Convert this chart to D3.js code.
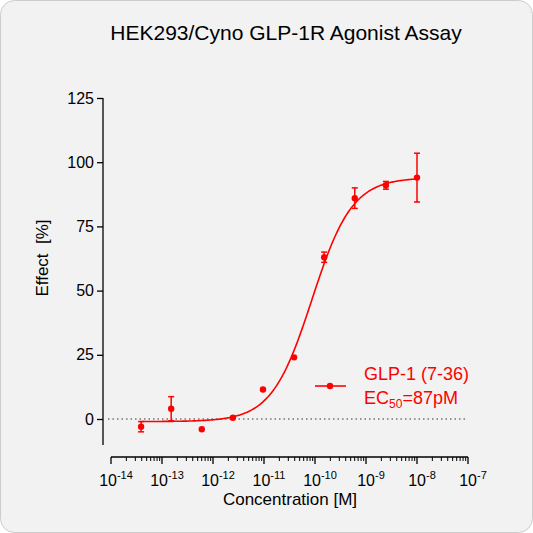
<!DOCTYPE html>
<html><head><meta charset="utf-8">
<script src="https://cdn.jsdelivr.net/npm/d3@7"></script>
<style>body{margin:0;background:#fff;font-family:Arial,"Liberation Sans",sans-serif;}</style>
</head><body><div id="chart"></div>
<script>
// concentrations (log10 M), mean effect, SEM
var logConc = [-13.41, -12.82, -12.22, -11.61, -11.02, -10.41, -9.82, -9.22, -8.61, -8.0];
var effect = [-3, 4, -4, 0.5, 11.5, 24, 63, 86, 91, 94];
var errBar = [2, 4.7, 0, 0, 0, 0, 2, 4, 1.5, 9.5];
var yTicks = [0, 25, 50, 75, 100, 125];
var xDecades = [-14, -13, -12, -11, -10, -9, -8, -7];
// fitted curve parameters
var bottom = -1, top_ = 94, logEC50 = -10.06, hill = 1.1;

var W = 533, H = 533;
var svg = d3.select("#chart").append("svg").attr("width", W).attr("height", H);
svg.append("rect").attr("x", 0.5).attr("y", 0.5).attr("width", W - 1).attr("height", H - 1)
    .attr("rx", 14).attr("fill", "#f2f2f2").attr("stroke", "#ccc");

var x = d3.scaleLinear().domain([-14, -7]).range([111, 468]);
var y = d3.scaleLinear().domain([0, 125]).range([419, 98]);

svg.append("text").attr("x", 286).attr("y", 40).attr("text-anchor", "middle")
    .attr("font-size", 21).text("HEK293/Cyno GLP-1R Agonist Assay");

// y axis
var yAxis = svg.append("g").attr("transform", "translate(103,0)")
    .call(d3.axisLeft(y).tickValues(yTicks).tickSize(6));
yAxis.select(".domain").remove();
yAxis.append("line").attr("y1", 98).attr("y2", 445).attr("stroke", "#000").attr("stroke-width", 1.3);
yAxis.selectAll("text").attr("font-size", 16).attr("fill", "#000").attr("font-family", "Arial, Liberation Sans");
yAxis.selectAll(".tick line").attr("stroke-width", 1.3);

svg.append("text").attr("transform", "translate(48,258) rotate(-90)").attr("text-anchor", "middle")
    .attr("font-size", 17).attr("xml:space", "preserve").text("Effect  [%]");

// x axis with minor log ticks
var xa = svg.append("g");
var ax = 457;
xa.append("line").attr("x1", x(-14)).attr("x2", x(-7)).attr("y1", ax).attr("y2", ax).attr("stroke", "#000").attr("stroke-width", 1.3);
var minors = [];
xDecades.slice(0, -1).forEach(function (d) { for (var k = 2; k < 10; k++) minors.push(d + Math.log10(k)); });
xa.selectAll(".mn").data(minors).enter().append("line")
    .attr("x1", function (d) { return x(d); }).attr("x2", function (d) { return x(d); })
    .attr("y1", ax).attr("y2", ax + 4).attr("stroke", "#000");
xa.selectAll(".mj").data(xDecades).enter().append("line")
    .attr("x1", function (d) { return x(d); }).attr("x2", function (d) { return x(d); })
    .attr("y1", ax).attr("y2", ax + 7).attr("stroke", "#000").attr("stroke-width", 1.3);
var lab = xa.selectAll(".lb").data(xDecades).enter().append("text")
    .attr("x", function (d) { return x(d) + 5; }).attr("y", 486).attr("text-anchor", "middle").attr("font-size", 16);
lab.append("tspan").text("10");
lab.append("tspan").attr("dy", -7).attr("font-size", 11).text(function (d) { return d; });
svg.append("text").attr("x", 290).attr("y", 505).attr("text-anchor", "middle").attr("font-size", 17).text("Concentration [M]");

// zero line
svg.append("line").attr("x1", 108).attr("x2", 468).attr("y1", y(0)).attr("y2", y(0))
    .attr("stroke", "#333").attr("stroke-dasharray", "1.5,3");

var red = "#ff0000";
var curveX = d3.range(-13.41, -7.999, 0.02);
var line = d3.line().x(function (d) { return x(d); })
    .y(function (d) { return y(bottom + (top_ - bottom) / (1 + Math.pow(10, hill * (logEC50 - d)))); });
svg.append("path").datum(curveX).attr("d", line).attr("fill", "none").attr("stroke", red).attr("stroke-width", 1.6);

var pts = logConc.map(function (c, i) { return { c: c, v: effect[i], e: errBar[i] }; });
var eb = svg.selectAll(".eb").data(pts.filter(function (p) { return p.e > 0; })).enter().append("g").attr("stroke", red).attr("stroke-width", 1.5);
eb.append("line").attr("x1", function (p) { return x(p.c); }).attr("x2", function (p) { return x(p.c); })
    .attr("y1", function (p) { return y(p.v - p.e); }).attr("y2", function (p) { return y(p.v + p.e); });
[1, -1].forEach(function (s) {
    eb.append("line").attr("x1", function (p) { return x(p.c) - 3; }).attr("x2", function (p) { return x(p.c) + 3; })
        .attr("y1", function (p) { return y(p.v + s * p.e); }).attr("y2", function (p) { return y(p.v + s * p.e); });
});
svg.selectAll(".pt").data(pts).enter().append("circle")
    .attr("cx", function (p) { return x(p.c); }).attr("cy", function (p) { return y(p.v); }).attr("r", 3.2).attr("fill", red);

// legend
svg.append("line").attr("x1", 315).attr("x2", 346).attr("y1", 386).attr("y2", 386).attr("stroke", red).attr("stroke-width", 1.6);
svg.append("circle").attr("cx", 330).attr("cy", 386).attr("r", 3.2).attr("fill", red);
svg.append("text").attr("x", 364).attr("y", 380).attr("font-size", 18).attr("fill", red).text("GLP-1 (7-36)");
var t2 = svg.append("text").attr("x", 364).attr("y", 404).attr("font-size", 18).attr("fill", red);
t2.append("tspan").text("EC");
t2.append("tspan").attr("dy", 4).attr("font-size", 12).text("50");
t2.append("tspan").attr("dy", -4).text("=87pM");
</script></body></html>
